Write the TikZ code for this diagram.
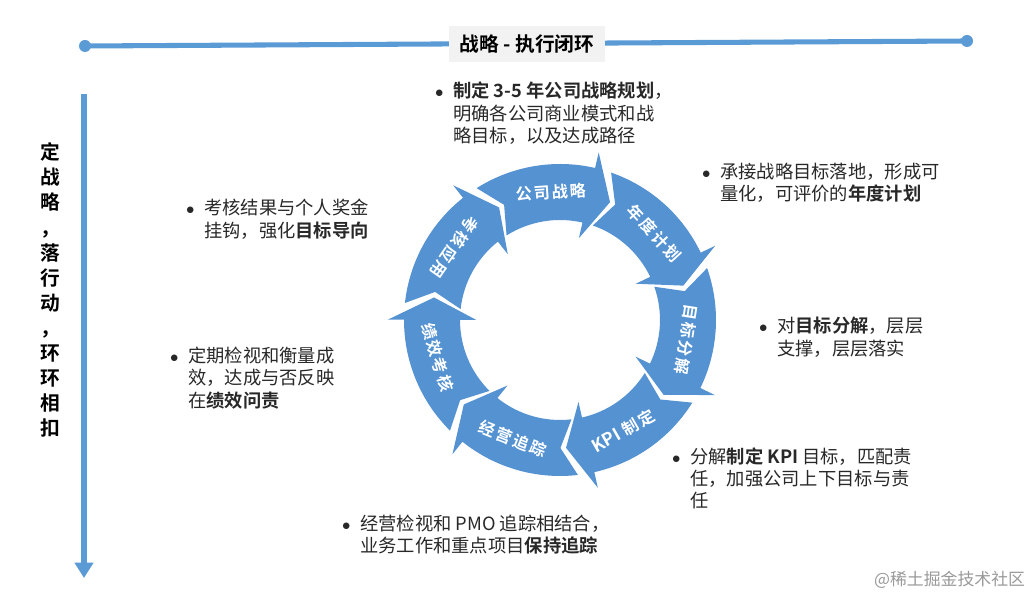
\documentclass[tikz,border=0pt]{standalone}
\usepackage{fontspec}
\setmainfont{Noto Sans CJK SC}[BoldFont={Noto Sans CJK SC Bold}]
\usetikzlibrary{arrows.meta}
\definecolor{ringblue}{RGB}{84,146,210}
\definecolor{lineblue}{RGB}{91,155,213}
\definecolor{notetext}{RGB}{40,40,40}
\newcommand{\bul}{\llap{$\bullet$\hspace{7pt}}}

\begin{document}
\begin{tikzpicture}[
    x=0.025cm, y=0.025cm,
    segment/.style={fill=ringblue},
    seglabel/.style={text=white, inner sep=0pt, font=\fontsize{11.5}{14}\selectfont\bfseries\addfontfeature{LetterSpace=12}},
    note/.style={anchor=north west, align=left, inner sep=0pt, text=notetext, font=\fontsize{13}{15.8}\selectfont},
    axisline/.style={draw=lineblue, line width=4pt},
    titlebox/.style={fill=black!5, inner xsep=8pt, inner ysep=6pt, font=\fontsize{14}{16}\selectfont\bfseries}
]
    \useasboundingbox (0,0) rectangle (1034,598);

    % --- TOP: TITLE LINE ---
    \coordinate (ldot) at (85,552);
    \coordinate (rdot) at (967,557);
    \draw[axisline, line width=3.6pt] (ldot) -- (rdot);
    \fill[lineblue] (ldot) circle[radius=6];
    \fill[lineblue] (rdot) circle[radius=6];
    \node[titlebox] (title) at (527,554) {战略 - 执行闭环};

    % --- LEFT: VERTICAL AXIS ---
    \coordinate (vtop) at (84,504);
    \coordinate (vbot) at (84,20);
    \draw[axisline, -{Triangle[width=13pt,length=11pt]}] (vtop) -- (vbot);
    \node[font=\fontsize{14}{17.8}\selectfont\bfseries, align=center] (motto) at (50,308)
        {定\\战\\略\\，\\落\\行\\动\\，\\环\\环\\相\\扣};

    % --- CENTRE: THE RING OF SEVEN ARROWS ---
    \begin{scope}[shift={(560,278)}]
        \foreach \c in {94,42.57,-8.86,-60.29,-111.71,-163.14,-214.57}
            \fill[segment] ({\c+28.3}:156) arc[start angle={\c+28.3}, end angle={\c-17}, radius=156]
                -- ({\c-17}:172) -- ({\c-27}:128) -- ({\c-17}:84) -- ({\c-17}:100)
                arc[start angle={\c-17}, end angle={\c+28.3}, radius=100]
                -- ({\c+21.9}:128) -- cycle;

        \node[seglabel, rotate=4] (s1) at (94:128) {公司战略};
        \node[seglabel, rotate=-47.4] (s2) at (42.57:128) {年度计划};
        \node[seglabel, rotate=-98.9] (s3) at (-8.86:128) {目标分解};
        \node[seglabel, rotate=29.7] (s4) at (-60.29:128) {{\addfontfeature{LetterSpace=0}\fontsize{12.5}{14}\selectfont KPI} 制定};
        \node[seglabel, rotate=-21.7] (s5) at (-111.71:128) {经营追踪};
        \node[seglabel, rotate=-73.1] (s6) at (-163.14:128) {绩效考核};
        \node[seglabel, rotate=-124.6] (s7) at (145.43:128) {考核应用};
    \end{scope}

    % --- NOTES AROUND THE RING ---
    \node[note] (n1) at (453,516) {\bul{}\textbf{制定 3-5 年公司战略规划}，\\明确各公司商业模式和战\\略目标，以及达成路径};
    \node[note] (n2) at (720,435) {\bul{}承接战略目标落地，形成可\\量化，可评价的\textbf{年度计划}};
    \node[note] (n3) at (777,281) {\bul{}对\textbf{目标分解}，层层\\支撑，层层落实};
    \node[note] (n4) at (690,151) {\bul{}分解\textbf{制定 KPI} 目标，匹配责\\任，加强公司上下目标与责\\任};
    \node[note] (n5) at (360,83) {\bul{}经营检视和 PMO 追踪相结合，\\业务工作和重点项目\textbf{保持追踪}};
    \node[note] (n6) at (188,251) {\bul{}定期检视和衡量成\\效，达成与否反映\\在\textbf{绩效问责}};
    \node[note] (n7) at (204,399) {\bul{}考核结果与个人奖金\\挂钩，强化\textbf{目标导向}};

    % watermark
    \node[anchor=east, text=black!40, font=\fontsize{12}{14}\selectfont] (mark) at (1030,18) {@稀土掘金技术社区};
\end{tikzpicture}
\end{document}
